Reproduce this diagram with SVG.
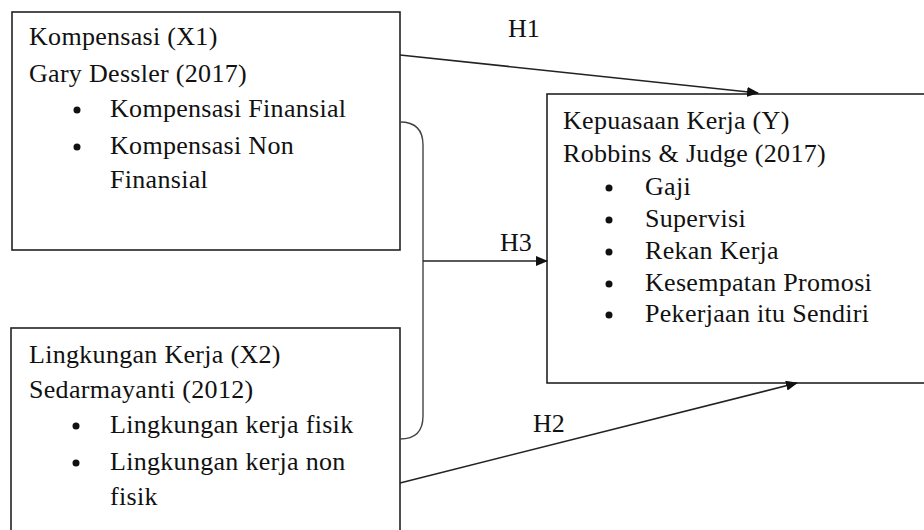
<svg xmlns="http://www.w3.org/2000/svg" width="924" height="530" viewBox="0 0 924 530">
<style>
.box{fill:#fff;stroke:#222;stroke-width:1.6}
.c{fill:none;stroke:#222;stroke-width:1.6}
.br{fill:none;stroke:#444;stroke-width:1.4}
</style>
<defs>
<marker id="ah" markerWidth="12" markerHeight="10" refX="11" refY="5" orient="auto" markerUnits="userSpaceOnUse">
<path d="M0,0 L12,5 L0,10 Z" fill="#111"/>
</marker>
</defs>
<rect width="924" height="530" fill="#fff"/>
<g id="x1">
<rect class="box" x="12" y="12" width="388" height="238"/>
<text x="29" y="45" font-family="'Liberation Serif', serif" font-size="26" letter-spacing="0.3" fill="#111">Kompensasi  (X1)</text>
<text x="29" y="82" font-family="'Liberation Serif', serif" font-size="26" letter-spacing="0.3" fill="#111">Gary Dessler  (2017)</text>
<circle cx="77" cy="110" r="3.5" fill="#111"/>
<text x="110" y="117" font-family="'Liberation Serif', serif" font-size="26" letter-spacing="0.3" fill="#111">Kompensasi Finansial</text>
<circle cx="77" cy="147" r="3.5" fill="#111"/>
<text x="110" y="154" font-family="'Liberation Serif', serif" font-size="26" letter-spacing="0.3" fill="#111">Kompensasi Non</text>
<text x="110" y="188" font-family="'Liberation Serif', serif" font-size="26" letter-spacing="0.3" fill="#111">Finansial</text>
</g>
<g id="x2">
<rect class="box" x="11" y="328" width="389" height="215"/>
<text x="29" y="363" font-family="'Liberation Serif', serif" font-size="26" letter-spacing="0.3" fill="#111">Lingkungan Kerja (X2)</text>
<text x="29" y="398" font-family="'Liberation Serif', serif" font-size="26" letter-spacing="0.3" fill="#111">Sedarmayanti (2012)</text>
<circle cx="76" cy="426" r="3.5" fill="#111"/>
<text x="110" y="433" font-family="'Liberation Serif', serif" font-size="26" letter-spacing="0.3" fill="#111">Lingkungan kerja fisik</text>
<circle cx="76" cy="463" r="3.5" fill="#111"/>
<text x="110" y="470" font-family="'Liberation Serif', serif" font-size="26" letter-spacing="0.3" fill="#111">Lingkungan kerja non</text>
<text x="110" y="505" font-family="'Liberation Serif', serif" font-size="26" letter-spacing="0.3" fill="#111">fisik</text>
</g>
<g id="y">
<rect class="box" x="547" y="94" width="390" height="289"/>
<text x="563" y="129" font-family="'Liberation Serif', serif" font-size="26" letter-spacing="0.3" fill="#111">Kepuasaan Kerja (Y)</text>
<text x="563" y="162" font-family="'Liberation Serif', serif" font-size="26" letter-spacing="0.3" fill="#111">Robbins &amp; Judge (2017)</text>
<circle cx="609" cy="188" r="3.5" fill="#111"/>
<text x="645" y="195" font-family="'Liberation Serif', serif" font-size="26" letter-spacing="0.3" fill="#111">Gaji</text>
<circle cx="609" cy="220" r="3.5" fill="#111"/>
<text x="645" y="227" font-family="'Liberation Serif', serif" font-size="26" letter-spacing="0.3" fill="#111">Supervisi</text>
<circle cx="609" cy="252" r="3.5" fill="#111"/>
<text x="645" y="259" font-family="'Liberation Serif', serif" font-size="26" letter-spacing="0.3" fill="#111">Rekan Kerja</text>
<circle cx="609" cy="284" r="3.5" fill="#111"/>
<text x="645" y="291" font-family="'Liberation Serif', serif" font-size="26" letter-spacing="0.3" fill="#111">Kesempatan Promosi</text>
<circle cx="609" cy="315" r="3.5" fill="#111"/>
<text x="645" y="322" font-family="'Liberation Serif', serif" font-size="26" letter-spacing="0.3" fill="#111">Pekerjaan itu Sendiri</text>
</g>
<g id="connectors">
<line class="c" x1="400" y1="55" x2="758" y2="93" marker-end="url(#ah)"/>
<path class="br" d="M400,122 Q423,122 423,145 L423,416 Q423,439 400,439"/>
<line class="c" x1="423" y1="261" x2="547" y2="261" marker-end="url(#ah)"/>
<line class="c" x1="400" y1="483" x2="797" y2="383" marker-end="url(#ah)"/>
<text x="508" y="37" font-family="'Liberation Serif', serif" font-size="26" fill="#111">H1</text>
<text x="500" y="251" font-family="'Liberation Serif', serif" font-size="26" fill="#111">H3</text>
<text x="533" y="432" font-family="'Liberation Serif', serif" font-size="26" fill="#111">H2</text>
</g>
</svg>
